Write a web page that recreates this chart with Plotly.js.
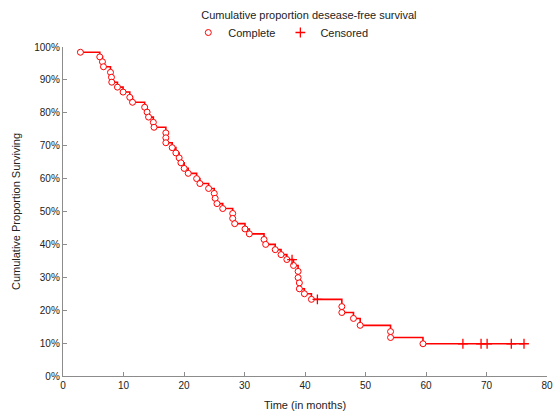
<!DOCTYPE html>
<html>
<head>
<meta charset="utf-8">
<script src="https://cdn.plot.ly/plotly-3.0.1.min.js"></script>
<style>html,body{margin:0;padding:0;background:#fff;}#chart{width:553px;height:412px;}</style>
</head>
<body>
<div id="chart"></div>
<script>
// Complete (event) observations: time in months, cumulative proportion surviving (%)
const completeTime = [2.88, 6.08, 6.52, 6.69, 7.85, 8.01, 8.06, 9.0, 9.93, 11.04, 11.49,
  13.5, 13.9, 14.14, 14.93, 15.05, 17.0, 17.0, 17.0, 18.05, 18.66, 19.2, 19.49, 20.03, 20.7,
  22.09, 22.63, 24.07, 25.0, 25.15, 25.45, 26.4, 28.05, 28.05, 28.38, 30.08, 30.8, 33.23, 33.5,
  35.08, 36.04, 37.0, 38.1, 38.86, 38.86, 39.07, 39.07, 39.9, 41.06, 46.09, 46.09, 48.01, 49.12,
  54.14, 54.14, 59.5];
const completeSurv = [98.4, 97.0, 95.5, 94.0, 92.3, 90.8, 89.3, 87.8, 86.3, 84.7, 83.2,
  81.7, 80.2, 78.7, 77.1, 75.6, 73.9, 72.4, 70.9, 69.4, 67.8, 66.3, 64.8, 63.1, 61.6,
  60.0, 58.5, 57.0, 55.5, 54.0, 52.4, 50.9, 49.4, 47.9, 46.3, 44.7, 43.2, 41.5, 40.0,
  38.4, 36.9, 35.4, 33.6, 31.8, 29.9, 28.3, 26.5, 25.0, 23.3, 21.1, 19.3, 17.5, 15.4,
  13.5, 11.7, 9.8];
// Censored observations
const censoredTime = [37.86, 42.05, 66.1, 69.1, 70.1, 74.1, 76.2];
const censoredSurv = [35.4, 23.3, 9.8, 9.8, 9.8, 9.8, 9.8];

const xTicks = [0, 10, 20, 30, 40, 50, 60, 70, 80];
const yTicks = [0, 10, 20, 30, 40, 50, 60, 70, 80, 90, 100];

// Step line through all observations in time order
const all = completeTime.map((t, i) => [t, completeSurv[i], 0])
  .concat(censoredTime.map((t, i) => [t, censoredSurv[i], 1]))
  .sort((a, b) => a[0] - b[0] || b[1] - a[1]);
const lineX = all.map(p => p[0]);
const lineY = all.map(p => p[1]);

const red = '#ff0000';
const font = "'Liberation Sans', Arial, sans-serif";

const traces = [
  {x: lineX, y: lineY, type: 'scatter', mode: 'lines', line: {shape: 'hv', color: red, width: 1.6},
   showlegend: false, hoverinfo: 'skip', cliponaxis: false},
  {x: completeTime, y: completeSurv, type: 'scatter', mode: 'markers', name: 'Complete',
   marker: {symbol: 'circle', size: 6, color: '#ffffff', line: {color: red, width: 1}}, cliponaxis: false},
  {x: censoredTime, y: censoredSurv, type: 'scatter', mode: 'markers', name: 'Censored',
   marker: {symbol: 'cross-thin-open', size: 7, color: red, line: {color: red, width: 1.3}}, cliponaxis: false}
];

const axisCommon = {
  showgrid: false, zeroline: false, showline: true, linecolor: '#8c8c8c', linewidth: 1.2,
  ticks: 'inside', ticklen: 4, tickcolor: '#8c8c8c', tickwidth: 1,
  tickfont: {family: font, size: 10, color: '#222'}
};

const layout = {
  width: 553, height: 412,
  margin: {l: 63, r: 6, t: 47, b: 36},
  paper_bgcolor: '#fff', plot_bgcolor: '#fff',
  font: {family: font, size: 11, color: '#222'},
  title: {text: 'Cumulative proportion desease-free survival', font: {family: font, size: 11, color: '#222'},
          x: 0.508, xanchor: 'center', y: 0.963, yanchor: 'middle', xref: 'paper', yref: 'container'},
  showlegend: true,
  legend: {orientation: 'h', x: 0.45, xanchor: 'center', y: 1.044, yanchor: 'middle',
           font: {family: font, size: 11, color: '#222'}, bgcolor: 'rgba(0,0,0,0)', itemwidth: 30,
           tracegroupgap: 0},
  xaxis: Object.assign({}, axisCommon, {range: [0, 80], tickvals: xTicks, ticktext: xTicks.map(String),
    title: {text: 'Time (in months)', font: {family: font, size: 11, color: '#222'}, standoff: 11}}),
  yaxis: Object.assign({}, axisCommon, {range: [0, 100], tickvals: yTicks, ticktext: yTicks.map(v => v + '%'),
    title: {text: 'Cumulative Proportion Surviving', font: {family: font, size: 11, color: '#222'}, standoff: 11}})
};

Plotly.newPlot('chart', traces, layout, {displayModeBar: false, staticPlot: true});
</script>
</body>
</html>
